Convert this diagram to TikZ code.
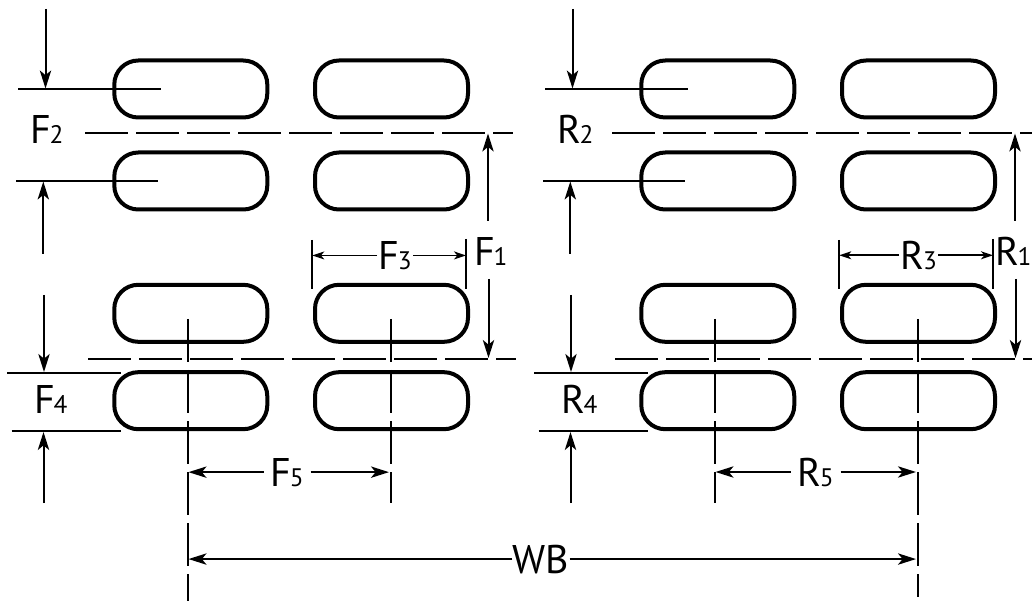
\documentclass[tikz,border=0pt]{standalone}
\usepackage{fontspec}
\setmainfont{PT Sans}
\usetikzlibrary{arrows.meta}
\newcommand{\dimtext}[2]{\fontsize{30}{30}\selectfont #1\kern-1pt\fontsize{19}{19}\selectfont #2}
\begin{document}
\begin{tikzpicture}[x=0.75pt,y=-0.75pt,
    slot/.style={draw, line width=3pt, rounded corners=18pt, minimum width=114.75pt, minimum height=42.75pt, inner sep=0pt},
    dimline/.style={line width=1.5pt},
    dimarrow/.style={line width=1.5pt, -{Stealth[length=13.5pt,width=8.5pt,inset=3.5pt]}},
    smallarrow/.style={line width=1.2pt, -{Stealth[length=9pt,width=6pt,inset=2.5pt]}},
    centerline/.style={line width=1.5pt, dash pattern=on 32.25pt off 6pt},
    dimlabel/.style={anchor=base west, inner sep=0pt}]
    \useasboundingbox (0,0) rectangle (1032,602);

    \foreach \x/\L/\tx/\ox in {0/F/377/474, 527/R/372/468} {
    \begin{scope}[shift={(\x,0)}]
        % Tyre slots
        \foreach \r/\ry in {1/89, 2/181, 3/313.3, 4/400.7} {
            \node[slot] (\L a\r) at (190.8,\ry) {};
            \node[slot] (\L b\r) at (391.5,\ry) {};
        }

        % Centre lines
        \draw[centerline] (85,133) -- (513,133);
        \draw[centerline] (88,359.5) -- (516,359.5);
        \draw[centerline] (187.7,319) -- (187.7,503);
        \draw[centerline] (390.5,319) -- (390.5,503);

        % Width lines
        \draw[dimline] (18,89) -- (160.7,89);
        \draw[dimline] (16,181) -- (158,181);
        \draw[dimline] (7,372.7) -- (121,372.7);
        \draw[dimline] (11.5,430.5) -- (121,430.5);
        \draw[dimarrow] (45.5,9) -- (45.5,88.5);
        \draw[dimarrow] (43.3,254) -- (43.3,181.5);
        \draw[dimarrow] (44,295) -- (44,372);
        \draw[dimarrow] (43.5,503) -- (43.5,432);

        % Height between the axles
        \draw[dimarrow] (488,221) -- (488,133.5);
        \draw[dimarrow] (488.5,279) -- (488.5,358);

        % Labels
        \node[dimlabel] (\L1) at (\ox,265.7) {\dimtext{\L}{1}};
        \node[dimlabel] (\L2) at (30,144) {\dimtext{\L}{2}};
        \node[dimlabel, inner xsep=1pt] (\L3) at (\tx,269.3) {\dimtext{\L}{3}};
        \node[dimlabel] (\L4) at (34,413.3) {\dimtext{\L}{4}};
        \node[dimlabel, inner xsep=5pt] (\L5) at (263.5,486) {\dimtext{\L}{5}};

        % Track arrows
        \draw[dimline] (312.3,240) coordinate (\L3l) -- (312.3,289);
        \draw[dimline] (466,239) coordinate (\L3r) -- (466,289);
        \draw[smallarrow] (\L3.west) -- (\L3.west -| \L3l);
        \draw[smallarrow] (\L3.east) -- (\L3.east -| \L3r);
        \coordinate (\L5l) at (188.5,474);
        \coordinate (\L5r) at (389,474);
        \draw[dimarrow] (\L5.west) -- (\L5.west -| \L5l);
        \draw[dimarrow] (\L5.east) -- (\L5.east -| \L5r);
    \end{scope}
    }

    % Wheelbase
    \draw[centerline] (187.7,472) -- (187.7,601);
    \draw[centerline] (917.5,472) -- (917.5,597);
    \node[inner xsep=0pt, inner ysep=0pt, anchor=base] (WB) at (541,573) {\fontsize{30}{30}\selectfont WB};
    \coordinate (WBl) at (188.5,561);
    \coordinate (WBr) at (916,561);
    \draw[dimarrow] (WB.west) -- (WB.west -| WBl);
    \draw[dimarrow] (WB.east) -- (WB.east -| WBr);
\end{tikzpicture}
\end{document}
